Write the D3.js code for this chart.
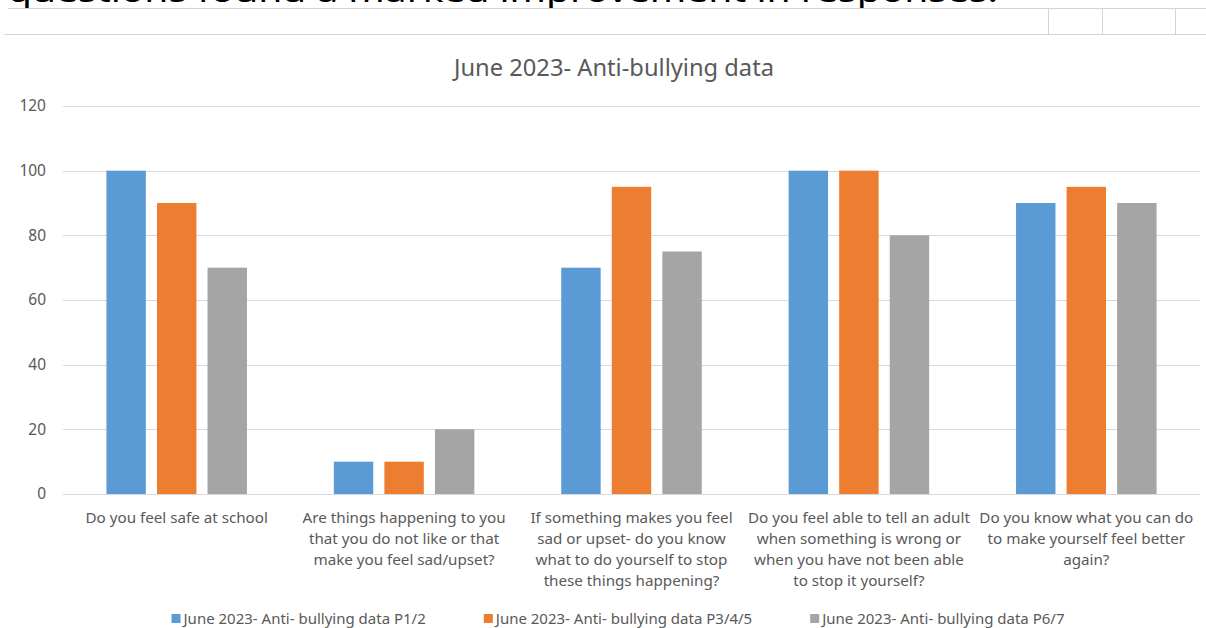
<!DOCTYPE html>
<html>
<head>
<meta charset="utf-8">
<script src="https://cdn.jsdelivr.net/npm/d3@7"></script>
<style>
	body { margin: 0; background: #fff; }
	svg text { font-family: "Noto Sans", "Open Sans", sans-serif; }
</style>
</head>
<body>
<svg id="chartSvg"></svg>
<script>
'use strict';

// questions (x axis), wrapped the way they show under the bars
var categories = ['Q1', 'Q2', 'Q3', 'Q4', 'Q5']
var categoryLabels = [
	['Do you feel safe at school'],
	['Are things happening to you', 'that you do not like or that', 'make you feel sad/upset?'],
	['If something makes you feel', 'sad or upset- do you know', 'what to do yourself to stop', 'these things happening?'],
	['Do you feel able to tell an adult', 'when something is wrong or', 'when you have not been able', 'to stop it yourself?'],
	['Do you know what you can do', 'to make yourself feel better', 'again?']
]
var seriesNames = ['June 2023- Anti- bullying data P1/2', 'June 2023- Anti- bullying data P3/4/5', 'June 2023- Anti- bullying data P6/7']
var seriesColors = ['#5b9bd5', '#ed7d31', '#a5a5a5']
var p12 = [100, 10, 70, 100, 90]
var p345 = [90, 10, 95, 100, 95]
var p67 = [70, 20, 75, 80, 90]
var yTicks = [0, 20, 40, 60, 80, 100, 120]
var chartTitle = 'June 2023- Anti-bullying data'
var pageText = 'questions found a marked improvement in responses.'

var drawChart = function(svgId) {
	var width = 1206,
	height = 628;
	var svg = d3.select('#' + svgId).attr('width', width).attr('height', height)

	var seriesValues = [p12, p345, p67]

	// bit of the document above the chart (clipped text + table borders)
	svg.append('text').attr('x', 8).attr('y', 2).attr('font-size', 27).attr('fill', '#000')
		.attr('textLength', 990).attr('lengthAdjust', 'spacingAndGlyphs').text(pageText)
	svg.append('line').attr('x1', 8).attr('x2', width).attr('y1', 8.5).attr('y2', 8.5).attr('stroke', '#d4d4d4')
	svg.append('line').attr('x1', 4).attr('x2', width).attr('y1', 34.5).attr('y2', 34.5).attr('stroke', '#d4d4d4')
	var cellEdges = [1048.5, 1102.5, 1175.5]
	svg.selectAll('.cell').data(cellEdges).enter().append('line')
		.attr('x1', function(d) { return d }).attr('x2', function(d) { return d })
		.attr('y1', 8).attr('y2', 34).attr('stroke', '#d4d4d4')

	var left = 63, right = 1200, top = 106, bottom = 494

	var y = d3.scaleLinear().domain([0, 120]).range([bottom, top])
	var x0 = d3.scaleBand().domain(categories).range([left, right]).padding(0)
	var bw = x0.bandwidth()
	var groupW = bw * 0.618
	var x1 = d3.scaleBand().domain(d3.range(seriesNames.length))
		.range([(bw - groupW) / 2, (bw + groupW) / 2]).paddingInner(0.22)

	// gridlines
	svg.append('g').selectAll('line').data(yTicks).enter().append('line')
		.attr('x1', left).attr('x2', right)
		.attr('y1', function(d) { return Math.round(y(d)) + 0.5 })
		.attr('y2', function(d) { return Math.round(y(d)) + 0.5 })
		.attr('stroke', '#d9d9d9').attr('stroke-width', 1)

	// y axis labels
	var yAxis = d3.axisLeft(y).tickValues(yTicks).tickSize(0).tickPadding(0)
	var yg = svg.append('g').attr('transform', 'translate(46,0)').call(yAxis)
	yg.select('.domain').remove()
	yg.selectAll('text').attr('font-size', 15.5).attr('fill', '#595959')
		.style('font-family', '"Noto Sans", sans-serif')

	// bars
	var groups = svg.append('g').selectAll('g').data(categories).enter().append('g')
		.attr('transform', function(d) { return 'translate(' + x0(d) + ',0)' })
	groups.selectAll('rect').data(function(d, i) {
		return seriesValues.map(function(vals, s) { return { s: s, v: vals[i] } })
	}).enter().append('rect')
		.attr('x', function(d) { return x1(d.s) })
		.attr('width', x1.bandwidth())
		.attr('y', function(d) { return y(d.v) })
		.attr('height', function(d) { return y(0) - y(d.v) })
		.attr('fill', function(d) { return seriesColors[d.s] })

	// category labels
	categories.forEach(function(c, i) {
		var t = svg.append('text').attr('text-anchor', 'middle').attr('font-size', 15.2).attr('fill', '#595959')
		categoryLabels[i].forEach(function(line, k) {
			t.append('tspan').attr('x', x0(c) + bw / 2).attr('y', 523 + k * 21).text(line)
		})
	})

	// title
	svg.append('text').attr('x', 614).attr('y', 76).attr('text-anchor', 'middle')
		.attr('font-size', 23.7).attr('fill', '#595959').text(chartTitle)

	// legend
	var legend = svg.append('g')
	var xpos = 0
	seriesNames.forEach(function(name, s) {
		var item = legend.append('g').attr('transform', 'translate(' + xpos + ',0)')
		item.append('rect').attr('x', 0).attr('y', 614).attr('width', 9).attr('height', 9).attr('fill', seriesColors[s])
		var t = item.append('text').attr('x', 12).attr('y', 624).attr('font-size', 15).attr('fill', '#595959').text(name)
		xpos += 12 + t.node().getComputedTextLength() + 58
	})
	var legendW = xpos - 58
	legend.attr('transform', 'translate(' + (618 - legendW / 2) + ',0)')
}

drawChart('chartSvg')
</script>
</body>
</html>
